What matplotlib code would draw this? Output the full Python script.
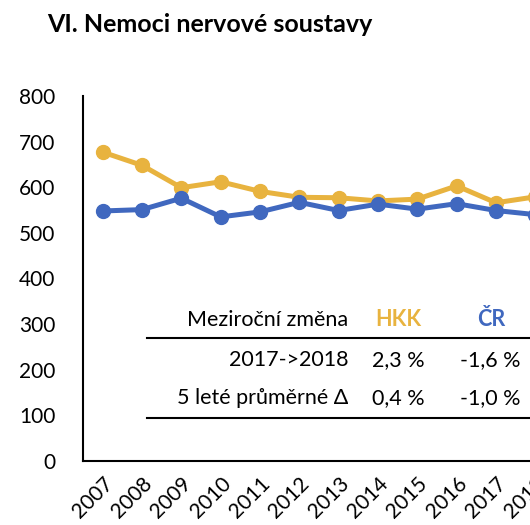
import matplotlib.pyplot as plt

plt.rcParams['font.family'] = ['Lato', 'DejaVu Sans']

years = ['2007', '2008', '2009', '2010', '2011', '2012', '2013', '2014',
         '2015', '2016', '2017', '2018']
hkk = [677, 648, 599, 612, 591, 578, 577, 570, 574, 603, 566, 579]
cr = [548, 551, 576, 535, 546, 567, 549, 563, 552, 564, 549, 540]

table_header = ['Meziroční změna', 'HKK', 'ČR']
table_rows = [['2017->2018', '2,3 %', '-1,6 %'],
              ['5 leté průměrné Δ', '0,4 %', '-1,0 %']]

yellow = '#E8B33F'
blue = '#4068BF'

W, H = 530, 525
fig = plt.figure(figsize=(W / 100, H / 100), dpi=100)

# axes reaches past the right edge, like the cropped original
left, bottom, right, top = 83, 461, 555, 96
ax = fig.add_axes([left / W, 1 - bottom / H, (right - left) / W, (bottom - top) / H])

x = range(len(years))
ax.plot(x, hkk, color=yellow, lw=3.6, marker='o', ms=10, solid_capstyle='round')
ax.plot(x, cr, color=blue, lw=3.6, marker='o', ms=10, solid_capstyle='round')

ax.set_xlim(-0.5, len(years) - 0.5)
ax.set_ylim(0, 800)
ax.set_yticks(range(0, 801, 100))
ax.set_xticks(list(x))
ax.set_xticklabels(years, rotation=45, ha='right', va='top', rotation_mode='anchor')
ax.tick_params(axis='both', length=0, labelsize=15)
ax.tick_params(axis='y', pad=20)
ax.tick_params(axis='x', pad=9)
for s in ['top', 'right']:
    ax.spines[s].set_visible(False)
for s in ['left', 'bottom']:
    ax.spines[s].set_linewidth(1.5)

fig.text(47 / W, 1 - 25 / H, 'VI. Nemoci nervové soustavy', fontsize=18,
         fontweight='bold', ha='left', va='center')

# small summary table
def px(xp, yp):
    return xp / W, 1 - yp / H

fs = 15.5
fig.text(*px(348, 320), table_header[0], fontsize=fs, ha='right', va='center')
fig.text(*px(398, 320), table_header[1], fontsize=fs, ha='center', va='center',
         color=yellow, fontweight='bold')
fig.text(*px(491, 320), table_header[2], fontsize=fs, ha='center', va='center',
         color=blue, fontweight='bold')
for i, row in enumerate(table_rows):
    yy = 360 + i * 38
    fig.text(*px(348, yy), row[0], fontsize=fs, ha='right', va='center')
    fig.text(*px(398, yy), row[1], fontsize=fs, ha='center', va='center')
    fig.text(*px(520, yy), row[2], fontsize=fs, ha='right', va='center')

for yl in [338, 418]:
    fig.add_artist(plt.Line2D([147 / W, 1.0], [1 - yl / H, 1 - yl / H],
                              color='black', lw=1.5))

fig.savefig('out.png', dpi=100)
